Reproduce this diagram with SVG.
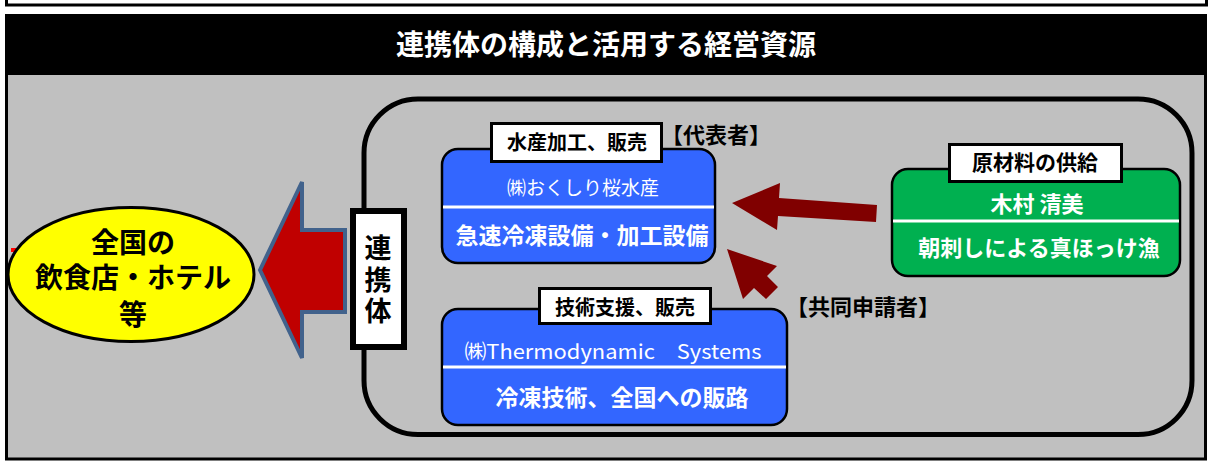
<svg xmlns="http://www.w3.org/2000/svg" width="1208" height="461" viewBox="0 0 1208 461">
<style>
text{font-family:"Noto Sans CJK JP","Noto Sans",sans-serif;text-anchor:middle}
.b{font-weight:bold}
.w{fill:#ffffff}
.k{fill:#000000}
.lbl{fill:#ffffff;stroke:#000000;stroke-width:3}
.box{stroke:#000000;stroke-width:2.5}
.div{stroke:#ffffff;stroke-width:3}
.darr{fill:#800000}
</style>
<rect x="0" y="0" width="1208" height="461" fill="#ffffff"/>
<g id="frame">
<rect x="6.5" y="-10" width="1200" height="15" fill="#ffffff" stroke="#000000" stroke-width="3"/>
<rect x="6.5" y="15.5" width="1199" height="443.5" fill="#c0c0c0" stroke="#000000" stroke-width="3"/>
<rect x="5" y="14" width="1202" height="61" fill="#000000"/>
<text class="b w" x="606" y="55" font-size="28">連携体の構成と活用する経営資源</text>
</g>
<g id="consortium">
<rect x="364" y="99" width="828" height="335.5" rx="54" fill="none" stroke="#000000" stroke-width="5"/>
</g>
<g id="renkeitai-label">
<rect x="353" y="211" width="51" height="136" fill="#ffffff" stroke="#000000" stroke-width="6"/>
<text class="b k" x="378" y="281.5" font-size="27" writing-mode="vertical-rl" letter-spacing="4.5">連携体</text>
</g>
<g id="customers">
<rect x="11" y="248" width="5" height="4" fill="#ff0000"/>
<ellipse cx="131" cy="274.5" rx="123" ry="67" fill="#ffff00" stroke="#000000" stroke-width="3"/>
<text class="b k" font-size="28"><tspan x="133" y="253">全国の</tspan><tspan x="133" y="288">飲食店・ホテル</tspan><tspan x="133" y="325">等</tspan></text>
</g>
<g id="okushiri">
<rect class="box" x="442" y="149" width="273" height="114" rx="16" fill="#3366ff"/>
<line class="div" x1="443" y1="207" x2="714" y2="207"/>
<text class="w" x="583" y="195" font-size="19">㈱おくしり桜水産</text>
<text class="b w" x="582" y="244" font-size="23">急速冷凍設備・加工設備</text>
<rect class="lbl" x="491.5" y="123.5" width="170" height="38"/>
<text class="b k" x="577" y="150" font-size="20">水産加工、販売</text>
<text class="b k" x="716" y="143" font-size="22">【代表者】</text>
</g>
<g id="thermodynamic">
<rect class="box" x="442" y="309" width="345" height="116" rx="16" fill="#3366ff"/>
<line class="div" x1="443" y1="367" x2="786" y2="367"/>
<text class="w" x="613" y="359" font-size="20" textLength="297" lengthAdjust="spacingAndGlyphs">㈱Thermodynamic　Systems</text>
<text class="b w" x="622" y="406" font-size="23">冷凍技術、全国への販路</text>
<rect class="lbl" x="539.5" y="288.5" width="171" height="35"/>
<text class="b k" x="625" y="315" font-size="20">技術支援、販売</text>
<text class="b k" x="863" y="315" font-size="22">【共同申請者】</text>
</g>
<g id="kimura">
<rect class="box" x="892" y="169" width="288" height="107" rx="16" fill="#00b050"/>
<line class="div" x1="893" y1="221" x2="1179" y2="221"/>
<text class="b w" x="1037" y="212" font-size="22">木村 清美</text>
<text class="b w" x="1039" y="256" font-size="22">朝刺しによる真ほっけ漁</text>
<rect class="lbl" x="949.5" y="144.5" width="172" height="37"/>
<text class="b k" x="1035" y="170" font-size="21">原材料の供給</text>
</g>
<g id="connectors">
<path d="M260,270 L302,182 L302,230 L345,230 L345,312 L302,312 L302,358 Z" fill="#c00000" stroke="#41628c" stroke-width="4"/>
<path class="darr" d="M732,203 L780,183 L779,198 L877,205 L876,222 L778,216 L777,230 Z"/>
<path class="darr" d="M727,249 L777,266 L767,276 L778,287 L766,299 L754,288 L743,299 Z"/>
</g>
</svg>
